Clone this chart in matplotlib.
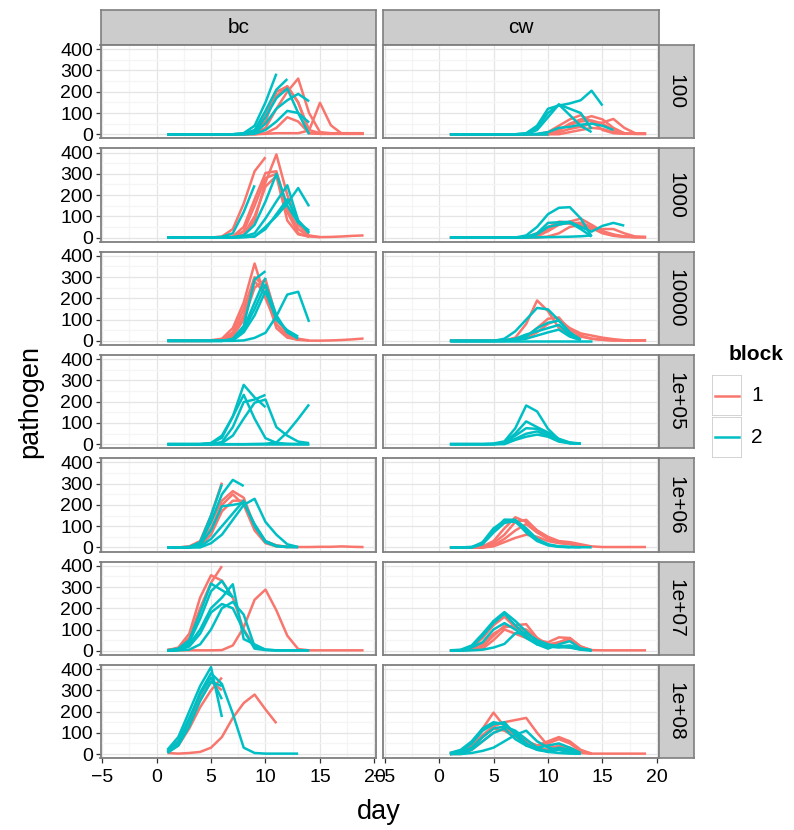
import matplotlib
matplotlib.use("Agg")
import matplotlib.pyplot as plt
from matplotlib.patches import Rectangle

plt.rcParams['font.family'] = ['Liberation Sans', 'DejaVu Sans']

doses = ["100", "1000", "10000", "1e+05", "1e+06", "1e+07", "1e+08"]
treatments = ["bc", "cw"]
blocks = ["1", "2"]
block_colors = ["#F8766D", "#00BFC4"]

# pathogen counts per plant, day 1 onwards
bc_100_b1 = [
    [0, 0, 0, 0, 0, 0, 0, 0, 10, 60, 200, 225, 150, 20, 5, 3, 3, 3, 3],
    [0, 0, 0, 0, 0, 0, 0, 0, 5, 30, 120, 200, 262, 100, 10, 5, 5, 5, 5],
    [0, 0, 0, 0, 0, 0, 0, 0, 0, 2, 5, 5, 5, 18, 148, 42, 3, 3, 3],
    [0, 0, 0, 0, 0, 0, 0, 0, 3, 100, 180, 226, 150, 5, 2, 2, 2, 2, 2],
    [0, 0, 0, 0, 0, 0, 0, 0, 0, 5, 30, 80, 60, 5, 2, 2, 2, 2, 2],
]
bc_100_b2 = [
    [0, 0, 0, 0, 0, 0, 0, 5, 40, 150, 285],
    [0, 0, 0, 0, 0, 0, 0, 3, 20, 110, 210, 260],
    [0, 0, 0, 0, 0, 0, 0, 2, 10, 80, 170, 215, 100, 0],
    [0, 0, 0, 0, 0, 0, 0, 0, 5, 50, 120, 160, 190, 155],
    [0, 0, 0, 0, 0, 0, 0, 0, 2, 20, 60, 110, 100, 55],
]
cw_100_b1 = [
    [0, 0, 0, 0, 0, 0, 0, 0, 0, 5, 20, 50, 70, 85, 70, 30, 5, 2, 2],
    [0, 0, 0, 0, 0, 0, 0, 0, 0, 10, 40, 70, 90, 60, 20, 5, 2, 2, 2],
    [0, 0, 0, 0, 0, 0, 0, 0, 0, 0, 10, 25, 35, 50, 55, 72, 30, 5, 2],
    [0, 0, 0, 0, 0, 0, 0, 0, 0, 0, 20, 45, 60, 65, 50, 20, 5, 2, 2],
    [0, 0, 0, 0, 0, 0, 0, 0, 0, 0, 0, 10, 20, 30, 25, 10, 3, 2, 2],
]
cw_100_b2 = [
    [0, 0, 0, 0, 0, 0, 0, 5, 40, 120, 135, 145, 160, 205, 135],
    [0, 0, 0, 0, 0, 0, 0, 3, 30, 100, 140, 120, 100, 25],
    [0, 0, 0, 0, 0, 0, 0, 0, 20, 80, 140, 90, 40, 10],
    [0, 0, 0, 0, 0, 0, 0, 0, 2, 10, 30, 35, 45, 50, 40, 20],
    [0, 0, 0, 0, 0, 0, 0, 0, 0, 0],
]
bc_1000_b1 = [
    [0, 0, 0, 0, 0, 5, 40, 160, 312, 378],
    [0, 0, 0, 0, 0, 0, 2, 10, 80, 260, 391, 200, 60, 10, 2, 3, 5, 8, 10],
    [0, 0, 0, 0, 0, 0, 5, 50, 180, 304, 312, 140, 40, 5, 2],
    [0, 0, 0, 0, 0, 0, 2, 30, 150, 280, 300, 120, 20, 3],
    [0, 0, 0, 0, 0, 0, 0, 15, 100, 240, 290, 80, 15, 5],
]
bc_1000_b2 = [
    [0, 0, 0, 0, 0, 3, 20, 120, 246],
    [0, 0, 0, 0, 0, 0, 2, 10, 60, 170, 300, 150, 70, 33],
    [0, 0, 0, 0, 0, 0, 0, 5, 20, 90, 170, 246, 80, 20],
    [0, 0, 0, 0, 0, 0, 0, 2, 5, 50, 100, 160, 233, 147],
    [0, 0, 0, 0, 0, 0, 0, 2, 5, 40, 110, 180, 80, 25],
]
cw_1000_b1 = [
    [0, 0, 0, 0, 0, 0, 0, 2, 20, 50, 70, 65, 70, 50, 30, 15, 5, 2, 2],
    [0, 0, 0, 0, 0, 0, 0, 0, 5, 30, 60, 75, 89, 60, 30, 10, 5, 2, 2],
    [0, 0, 0, 0, 0, 0, 0, 0, 10, 40, 75, 70, 55, 40, 40, 40, 20, 5, 2],
    [0, 0, 0, 0, 0, 0, 0, 0, 0, 5, 20, 50, 60, 45, 20, 8, 3, 2, 2],
]
cw_1000_b2 = [
    [0, 0, 0, 0, 0, 0, 0, 10, 50, 110, 140, 143, 90, 5],
    [0, 0, 0, 0, 0, 0, 0, 2, 20, 69, 72, 74, 50, 28, 55, 69, 56],
    [0, 0, 0, 0, 0, 0, 0, 2, 15, 50, 61, 70, 40, 5],
    [0, 0, 0, 0, 0, 0, 0, 0, 1, 2, 3, 4, 6, 10],
]
bc_10000_b1 = [
    [0, 0, 0, 0, 3, 10, 60, 180, 364, 200, 80, 20, 5, 1, 1, 2, 4, 7, 11],
    [0, 0, 0, 0, 0, 5, 40, 150, 300, 250, 100, 40, 10, 2],
    [0, 0, 0, 0, 0, 5, 30, 120, 280, 220, 60, 15, 5],
    [0, 0, 0, 0, 0, 3, 20, 100, 250, 290, 110, 30, 5],
]
bc_10000_b2 = [
    [0, 0, 0, 0, 0, 0, 10, 70, 289, 328],
    [0, 0, 0, 0, 0, 0, 5, 60, 180, 297],
    [0, 0, 0, 0, 0, 0, 5, 50, 150, 265, 120, 40, 10],
    [0, 0, 0, 0, 0, 0, 2, 40, 120, 234, 100, 50, 20],
    [0, 0, 0, 0, 0, 0, 0, 2, 14, 38, 116, 218, 231, 89],
]
cw_10000_b1 = [
    [0, 0, 0, 0, 0, 2, 15, 80, 190, 140, 60, 30, 20, 10, 5, 2, 2, 2, 2],
    [0, 0, 0, 0, 0, 0, 5, 20, 60, 104, 110, 50, 25, 10, 5, 2, 2, 2, 2],
    [0, 0, 0, 0, 0, 0, 5, 15, 40, 80, 100, 60, 35, 25, 15, 8, 3, 2, 2],
]
cw_10000_b2 = [
    [0, 0, 0, 0, 0, 10, 45, 100, 155, 148, 96, 38, 6],
    [0, 0, 0, 0, 0, 2, 8, 20, 60, 85, 95, 40, 5],
    [0, 0, 0, 0, 0, 0, 3, 10, 25, 40, 53, 20, 3],
    [0, 0, 0, 0, 0, 0, 0, 0, 0, 0, 0, 0, 0, 0],
    [0, 0, 0, 0, 0, 2, 10, 30, 45, 60, 75, 30, 5],
]
bc_1e5_b1 = []
bc_1e5_b2 = [
    [0, 0, 0, 0, 5, 30, 130, 279, 220, 174],
    [0, 0, 0, 0, 5, 40, 130, 232, 120, 28, 6, 2, 1, 1],
    [0, 0, 0, 0, 0, 10, 80, 198, 210, 232],
    [0, 0, 0, 0, 0, 5, 40, 120, 195, 210, 80, 40, 12, 5],
    [0, 0, 0, 0, 0, 0, 0, 0, 1, 2, 8, 56, 119, 187],
    [0, 0, 0, 0, 0, 0, 0, 0, 0, 0, 0, 0, 0, 0],
]
cw_1e5_b1 = []
cw_1e5_b2 = [
    [0, 0, 0, 0, 3, 13, 75, 182, 154, 72, 22, 6, 2],
    [0, 0, 0, 0, 0, 8, 50, 107, 80, 55, 25, 8, 3],
    [0, 0, 0, 0, 0, 5, 40, 75, 72, 50, 20, 5, 2],
    [0, 0, 0, 0, 0, 3, 25, 49, 60, 40, 15, 5, 2],
    [0, 0, 0, 0, 0, 0, 20, 35, 45, 35, 12, 4, 2],
]
bc_1e6_b1 = [
    [0, 0, 5, 30, 150, 305],
    [0, 0, 3, 25, 120, 220, 265, 234, 100, 30, 10, 3, 2, 2, 3, 3, 5, 3, 2],
    [0, 0, 0, 15, 90, 200, 250, 200, 80, 20, 5, 2, 2],
    [0, 0, 0, 10, 60, 170, 220, 220, 90, 25, 8, 2],
]
bc_1e6_b2 = [
    [0, 0, 3, 20, 120, 250, 318, 289],
    [0, 0, 0, 25, 150, 297],
    [0, 0, 0, 15, 80, 194, 200, 210, 110, 30, 8, 2],
    [0, 0, 0, 0, 20, 60, 130, 200, 229, 120, 60, 15, 2],
    [0, 0, 0, 5, 40, 100, 160, 220, 100, 25, 5, 2, 1],
]
cw_1e6_b1 = [
    [0, 0, 0, 5, 30, 90, 142, 120, 80, 50, 30, 25, 15, 5, 2, 2, 2, 2, 2],
    [0, 0, 0, 0, 20, 60, 120, 130, 80, 45, 25, 20, 10, 3],
    [0, 0, 0, 0, 10, 40, 80, 110, 70, 40, 25, 18, 8, 2],
    [0, 0, 0, 0, 5, 25, 45, 60, 50, 30, 20, 15, 5, 2],
]
cw_1e6_b2 = [
    [0, 0, 3, 20, 80, 131, 130, 90, 40, 15, 5, 2, 1, 1],
    [0, 0, 0, 25, 90, 125, 120, 80, 35, 12, 4, 2, 1],
    [0, 0, 0, 15, 70, 115, 125, 70, 30, 10, 3, 1],
]
bc_1e7_b1 = [
    [5, 10, 60, 200, 320, 398],
    [2, 15, 80, 250, 355, 330, 250, 100, 20],
    [2, 2, 2, 2, 2, 3, 25, 110, 240, 288, 190, 71, 8, 2, 2, 2, 2, 2, 2],
]
bc_1e7_b2 = [
    [2, 10, 50, 180, 316, 285, 253],
    [0, 5, 40, 150, 280, 329, 250],
    [0, 5, 30, 100, 200, 250, 313, 55, 30, 5, 2, 2, 2, 2],
    [0, 3, 20, 80, 180, 220, 200, 95, 10, 3, 2, 2, 2, 2],
    [0, 2, 5, 30, 100, 200, 230, 170, 20, 5, 2, 2, 2, 2],
]
cw_1e7_b1 = [
    [0, 2, 15, 60, 120, 160, 110, 100, 60, 30, 40, 60, 20, 3, 2, 2, 2, 2, 2],
    [0, 2, 10, 30, 80, 110, 120, 125, 60, 20, 40, 50, 15, 3],
    [0, 2, 8, 20, 70, 118, 110, 80, 50, 40, 63, 60, 20, 2],
    [0, 0, 5, 10, 50, 100, 80, 60, 40, 25, 20, 15, 10, 2],
]
cw_1e7_b2 = [
    [2, 5, 25, 80, 140, 182, 140, 90, 40, 20, 15, 20, 5, 2],
    [0, 3, 20, 70, 130, 174, 120, 70, 30, 25, 20, 25, 10, 2],
    [0, 0, 2, 5, 15, 32, 82, 85, 50, 30, 20, 15, 5, 2],
    [0, 2, 15, 40, 100, 130, 100, 60, 30, 10, 30, 45, 10, 2],
]
bc_1e8_b1 = [
    [10, 40, 120, 220, 300, 360],
    [5, 2, 5, 10, 30, 80, 170, 240, 280, 210, 145],
    [15, 60, 150, 260, 340, 300],
]
bc_1e8_b2 = [
    [10, 50, 160, 290, 380, 330, 190, 30, 5, 2, 2, 2, 2],
    [20, 80, 200, 320, 409, 174],
    [10, 60, 170, 280, 360, 258],
    [5, 40, 130, 250, 340, 320],
]
cw_1e8_b1 = [
    [5, 15, 50, 120, 195, 130, 100, 60, 40, 60, 80, 60, 20, 2, 2, 2, 2, 2, 2],
    [2, 10, 40, 90, 130, 150, 160, 170, 100, 40, 30, 20, 5, 2],
    [0, 5, 30, 80, 120, 110, 80, 60, 40, 50, 70, 50, 15, 2],
    [0, 0, 20, 60, 100, 120, 90, 50, 30, 20, 40, 30, 10, 2],
]
cw_1e8_b2 = [
    [5, 20, 60, 120, 150, 140, 100, 50, 20, 10, 20, 10, 2],
    [0, 15, 50, 110, 140, 150, 90, 40, 20, 15, 30, 20, 5],
    [0, 10, 30, 80, 120, 130, 110, 70, 30, 10, 5, 2, 1],
    [0, 5, 20, 60, 100, 120, 70, 40, 30, 40, 50, 30, 5],
    [0, 0, 5, 15, 30, 60, 90, 110, 60, 30, 20, 10, 2],
]

# rows = dose, columns = treatment, inner = block
grid = [
    [(bc_100_b1, bc_100_b2), (cw_100_b1, cw_100_b2)],
    [(bc_1000_b1, bc_1000_b2), (cw_1000_b1, cw_1000_b2)],
    [(bc_10000_b1, bc_10000_b2), (cw_10000_b1, cw_10000_b2)],
    [(bc_1e5_b1, bc_1e5_b2), (cw_1e5_b1, cw_1e5_b2)],
    [(bc_1e6_b1, bc_1e6_b2), (cw_1e6_b1, cw_1e6_b2)],
    [(bc_1e7_b1, bc_1e7_b2), (cw_1e7_b1, cw_1e7_b2)],
    [(bc_1e8_b1, bc_1e8_b2), (cw_1e8_b1, cw_1e8_b2)],
]

W, H = 794, 830
fig = plt.figure(figsize=(W / 100, H / 100), dpi=100)


def px_axes(x0, y0, w, h):
    # pixel box (top-left origin) -> figure axes
    return fig.add_axes([x0 / W, 1 - (y0 + h) / H, w / W, h / H])


border = "#7F7F7F"
strip_bg = "#CCCCCC"
col_x = [100.5, 383]
pan_w = 275.5
row_top = 45
row_pitch = 103.3
pan_h = 93.5
small = 15
ticksize = 14

for j, trt in enumerate(treatments):
    sax = px_axes(col_x[j], 10, pan_w, 35)
    sax.set_facecolor(strip_bg)
    sax.set_xticks([])
    sax.set_yticks([])
    for s in sax.spines.values():
        s.set_color(border)
        s.set_linewidth(1.2)
    sax.text(0.5, 0.5, trt, ha="center", va="center", fontsize=small,
             transform=sax.transAxes)

for i, dose in enumerate(doses):
    top = row_top + i * row_pitch
    for j in range(2):
        ax = px_axes(col_x[j], top, pan_w, pan_h)
        ax.set_xlim(-5.14, 20.14)
        ax.set_ylim(-20, 420)
        ax.set_xticks([-5, 0, 5, 10, 15, 20])
        ax.set_xticks([-2.5, 2.5, 7.5, 12.5, 17.5], minor=True)
        ax.set_yticks([0, 100, 200, 300, 400])
        ax.set_yticks([50, 150, 250, 350], minor=True)
        ax.grid(which="major", color="#E5E5E5", lw=0.9)
        ax.grid(which="minor", color="#F5F5F5", lw=0.9)
        ax.set_axisbelow(True)
        for s in ax.spines.values():
            s.set_color(border)
            s.set_linewidth(1.3)
        ax.tick_params(which="minor", length=0)
        ax.tick_params(which="major", direction="out", length=3.5, width=0.9,
                       color="#333333", labelsize=ticksize, pad=2)
        ax.tick_params(axis="x", pad=4)
        if j != 0:
            ax.tick_params(axis="y", length=0, labelleft=False)
        if i != len(doses) - 1:
            ax.tick_params(axis="x", length=0, labelbottom=False)

        for b in range(2):
            for series in grid[i][j][b]:
                days = list(range(1, len(series) + 1))
                ax.plot(days, series, color=block_colors[b], lw=1.8,
                        solid_joinstyle="round", solid_capstyle="butt")

    sax = px_axes(col_x[1] + pan_w, top, 35, pan_h)
    sax.set_facecolor(strip_bg)
    sax.set_xticks([])
    sax.set_yticks([])
    for s in sax.spines.values():
        s.set_color(border)
        s.set_linewidth(1.2)
    sax.text(0.5, 0.5, dose, ha="center", va="center", rotation=-90,
             fontsize=small, transform=sax.transAxes)

fig.text(379 / W, 1 - 812 / H, "day", ha="center", va="center", fontsize=19.5)
fig.text(30 / W, 1 - 401 / H, "pathogen", ha="center", va="center",
         rotation=90, fontsize=19.5)

# legend
fig.text(729 / W, 1 - 354 / H, "block", ha="left", va="center",
         fontsize=small, fontweight="bold")
for b, lab in enumerate(blocks):
    y0 = 375 + b * 41.5
    kax = px_axes(712, y0, 30, 41.5)
    kax.set_xlim(0, 1)
    kax.set_ylim(0, 1)
    kax.axis("off")
    kax.add_patch(Rectangle((0, 0), 1, 1, facecolor="white",
                            edgecolor="#CCCCCC", lw=1.2))
    kax.plot([0.1, 0.9], [0.5, 0.5], color=block_colors[b], lw=1.8)
    fig.text(751 / W, 1 - (y0 + 20.75) / H, lab, ha="left", va="center",
             fontsize=small)

fig.savefig("out.png", dpi=100)
